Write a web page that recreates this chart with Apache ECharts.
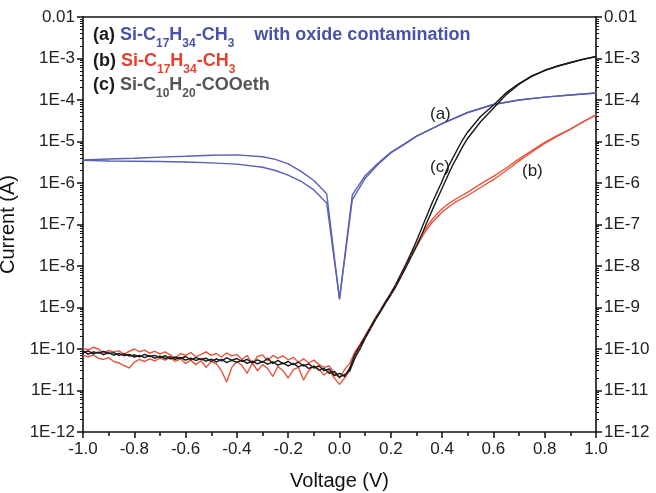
<!DOCTYPE html>
<html><head><meta charset="utf-8">
<script src="https://cdn.jsdelivr.net/npm/echarts@6/dist/echarts.min.js"></script>
<style>html,body{margin:0;padding:0;background:#fff}#c{width:656px;height:493px}</style>
</head><body><div id="c"></div>
<script>
// ---------- data ----------
const noiseV = [-1.00,-0.98,-0.96,-0.94,-0.92,-0.90,-0.88,-0.86,-0.84,-0.82,-0.80,-0.78,-0.76,-0.74,-0.72,-0.70,-0.68,-0.66,-0.64,-0.62,-0.60,-0.58,-0.56,-0.54,-0.52,-0.50,-0.48,-0.46,-0.44,-0.42,-0.40,-0.38,-0.36,-0.34,-0.32,-0.30,-0.28,-0.26,-0.24,-0.22,-0.20,-0.18,-0.16,-0.14,-0.12,-0.10,-0.08,-0.06,-0.04,-0.02,0.00,0.02];
const blackNoise1 = [9.0e-11,7.5e-11,8.5e-11,8.0e-11,8.8e-11,7.8e-11,8.2e-11,7.0e-11,7.6e-11,6.8e-11,7.2e-11,6.5e-11,7.4e-11,6.6e-11,7.0e-11,6.2e-11,6.9e-11,5.8e-11,6.4e-11,5.9e-11,6.6e-11,5.5e-11,6.2e-11,5.6e-11,6.0e-11,5.0e-11,5.8e-11,5.2e-11,6.1e-11,5.4e-11,5.9e-11,5.0e-11,5.6e-11,4.6e-11,5.5e-11,4.8e-11,6.0e-11,4.5e-11,5.3e-11,4.4e-11,5.0e-11,4.2e-11,4.8e-11,3.9e-11,4.4e-11,3.5e-11,3.9e-11,3.0e-11,3.3e-11,2.3e-11,2.6e-11,2.2e-11];
const blackNoise2 = [8.0e-11,9.0e-11,7.6e-11,8.4e-11,7.3e-11,8.1e-11,7.1e-11,7.8e-11,6.9e-11,7.4e-11,6.4e-11,7.0e-11,6.2e-11,6.9e-11,6.0e-11,6.7e-11,5.9e-11,6.5e-11,5.6e-11,6.3e-11,5.4e-11,6.0e-11,5.3e-11,5.8e-11,5.1e-11,5.7e-11,4.9e-11,5.6e-11,4.7e-11,5.3e-11,4.8e-11,5.4e-11,4.5e-11,5.1e-11,4.4e-11,5.0e-11,4.3e-11,4.9e-11,4.1e-11,4.6e-11,3.9e-11,4.5e-11,3.7e-11,4.2e-11,3.4e-11,3.8e-11,3.1e-11,3.4e-11,2.6e-11,2.9e-11,2.1e-11,2.4e-11];
const redNoise1 = [1.05e-10,9.5e-11,1.1e-10,1.0e-10,8.0e-11,9.2e-11,8.5e-11,9.0e-11,7.5e-11,8.8e-11,1.0e-10,8.6e-11,9.4e-11,8.0e-11,8.8e-11,7.6e-11,8.5e-11,7.2e-11,6.0e-11,7.8e-11,7.0e-11,8.2e-11,6.5e-11,7.4e-11,8.5e-11,7.0e-11,7.8e-11,6.4e-11,8.0e-11,6.8e-11,7.4e-11,5.6e-11,7.0e-11,4.4e-11,6.6e-11,7.2e-11,5.2e-11,7.0e-11,6.0e-11,6.8e-11,5.5e-11,6.3e-11,4.8e-11,5.8e-11,4.6e-11,5.4e-11,4.2e-11,3.6e-11,3.9e-11,2.6e-11,2.0e-11,3.2e-11];
const redNoise2 = [7.0e-11,6.5e-11,7.2e-11,6.0e-11,5.6e-11,6.2e-11,5.0e-11,4.6e-11,4.0e-11,3.5e-11,4.8e-11,5.6e-11,5.0e-11,5.8e-11,5.2e-11,6.0e-11,5.4e-11,6.2e-11,5.0e-11,5.8e-11,4.5e-11,5.4e-11,4.2e-11,5.2e-11,3.6e-11,5.0e-11,4.4e-11,3.0e-11,1.6e-11,3.6e-11,5.0e-11,4.0e-11,2.6e-11,4.6e-11,3.0e-11,4.2e-11,3.4e-11,2.2e-11,3.8e-11,3.0e-11,2.0e-11,3.2e-11,3.6e-11,1.8e-11,3.0e-11,4.0e-11,3.2e-11,2.4e-11,3.0e-11,2.0e-11,1.4e-11,2.0e-11];

const blackRiseV = [0.04,0.06,0.08,0.10,0.12,0.14,0.16,0.18,0.20,0.22,0.24,0.26,0.28,0.30,0.32,0.34,0.36,0.38,0.40,0.42,0.44,0.46,0.48,0.50,0.55,0.60,0.65,0.70,0.75,0.80,0.85,0.90,0.95,1.00];
const blackRise1 = [3.5e-11,7.5e-11,1.2e-10,2.0e-10,3.3e-10,5.5e-10,8.5e-10,1.4e-9,2.2e-9,3.6e-9,6.5e-9,1.15e-8,2.1e-8,4.0e-8,8.0e-8,1.6e-7,3.2e-7,6.0e-7,1.1e-6,2.2e-6,3.8e-6,6.5e-6,1.1e-5,1.7e-5,4.0e-5,7.5e-5,1.5e-4,2.5e-4,3.8e-4,5.2e-4,6.6e-4,8.0e-4,9.6e-4,1.12e-3];
const blackRise2 = [3.0e-11,6.0e-11,1.0e-10,1.8e-10,3.0e-10,5.0e-10,8.0e-10,1.3e-9,2.0e-9,3.2e-9,5.5e-9,9.5e-9,1.7e-8,3.0e-8,5.6e-8,1.1e-7,2.1e-7,4.0e-7,7.5e-7,1.4e-6,2.6e-6,4.4e-6,7.5e-6,1.2e-5,3.0e-5,6.3e-5,1.35e-4,2.4e-4,3.7e-4,5.1e-4,6.5e-4,7.9e-4,9.5e-4,1.11e-3];

const redRiseV = [0.04,0.06,0.08,0.10,0.12,0.14,0.16,0.18,0.20,0.22,0.24,0.26,0.28,0.30,0.32,0.34,0.36,0.38,0.40,0.42,0.45,0.50,0.55,0.60,0.65,0.70,0.75,0.80,0.85,0.90,0.95,1.00];
const redRise1 = [4.5e-11,8.5e-11,1.3e-10,2.1e-10,3.4e-10,5.6e-10,8.8e-10,1.4e-9,2.2e-9,3.6e-9,6.2e-9,1.05e-8,1.8e-8,3.2e-8,5.5e-8,8.8e-8,1.3e-7,1.8e-7,2.4e-7,3.0e-7,4.0e-7,6.0e-7,9.5e-7,1.45e-6,2.3e-6,3.8e-6,6.0e-6,9.5e-6,1.4e-5,2.0e-5,3.0e-5,4.4e-5];
const redRise2 = [3.0e-11,6.5e-11,1.1e-10,1.9e-10,3.1e-10,5.2e-10,8.2e-10,1.3e-9,2.1e-9,3.4e-9,5.8e-9,9.8e-9,1.7e-8,2.9e-8,4.8e-8,7.5e-8,1.1e-7,1.5e-7,2.0e-7,2.5e-7,3.4e-7,5.0e-7,7.8e-7,1.2e-6,2.0e-6,3.4e-6,5.6e-6,9.0e-6,1.35e-5,1.95e-5,2.95e-5,4.4e-5];

const blueV = [-1.0,-0.9,-0.8,-0.7,-0.6,-0.5,-0.4,-0.3,-0.25,-0.2,-0.15,-0.1,-0.05,0.0,0.05,0.1,0.15,0.2,0.25,0.3,0.4,0.5,0.6,0.7,0.8,0.9,1.0];
const blue1 = [3.6e-6,3.8e-6,3.95e-6,4.2e-6,4.4e-6,4.65e-6,4.75e-6,4.3e-6,3.7e-6,2.9e-6,1.9e-6,1.15e-6,5.5e-7,1.6e-9,5.2e-7,1.5e-6,3.0e-6,5.5e-6,8.5e-6,1.35e-5,2.7e-5,5.0e-5,7.8e-5,1.0e-4,1.17e-4,1.32e-4,1.48e-4];
const blue2 = [3.5e-6,3.4e-6,3.35e-6,3.3e-6,3.2e-6,3.05e-6,2.85e-6,2.4e-6,2.0e-6,1.55e-6,1.1e-6,6.8e-7,3.3e-7,1.6e-9,4.0e-7,1.3e-6,2.8e-6,5.3e-6,8.3e-6,1.33e-5,2.7e-5,5.0e-5,7.8e-5,1.0e-4,1.17e-4,1.32e-4,1.48e-4];

const yMin = 1e-12, yMax = 1e-2;

// ---------- styles ----------
const FONT = "'Liberation Sans', Arial, Helvetica, sans-serif";
const zip = (xs, ys) => xs.map((x, i) => [x, ys[i]]);
const BLUE = '#5a5fb6', RED = '#e8553d', BLACK = '#1a1a1a';
const BLUE_T = '#4a52a8', RED_T = '#e8402e', GRAY_T = '#555555';

function rich(color) {
  return {
    p: { color: BLACK, fontSize: 18, fontFamily: FONT, lineHeight: 30, verticalAlign: 'middle' },
    m: { color, fontSize: 18, fontFamily: FONT, lineHeight: 30, verticalAlign: 'middle' },
    w: { color, fontSize: 18, fontFamily: FONT, fontWeight: 'bold', lineHeight: 30, verticalAlign: 'middle' },
    s: { color, fontSize: 12, fontFamily: FONT, lineHeight: 30, verticalAlign: 'bottom' }
  };
}
function legendRow(text, color, cy) {
  return { text, left: 93, top: cy - 15, padding: 0, itemGap: 0,
    textStyle: { rich: rich(color), fontSize: 18, lineHeight: 30 } };
}
const ctx = document.createElement('canvas').getContext('2d');
function tw(t, size) { ctx.font = size + 'px ' + FONT; return ctx.measureText(t).width; }
function annot(text, cx, cy) {
  return { text, left: Math.round(cx - tw(text, 17) / 2), top: cy - 10, padding: 0,
    textStyle: { color: '#222', fontSize: 17, fontWeight: 'normal', fontFamily: FONT, lineHeight: 20 } };
}

function yFmt(v) { const e = Math.round(Math.log10(v)); return e === -2 ? '0.01' : '1E' + e; }
function yAxisCfg(pos) {
  return {
    type: 'log', logBase: 10, min: yMin, max: yMax, position: pos, splitNumber: 10,
    axisLine: { show: true, onZero: false, lineStyle: { color: '#111', width: 1.6 } },
    axisTick: { show: true, inside: false, length: 6, lineStyle: { color: '#111', width: 1.5 } },
    minorTick: { show: true, splitNumber: 9, length: 3, lineStyle: { color: '#111', width: 1 } },
    splitLine: { show: false },
    axisLabel: { show: true, interval: 0, showMinLabel: true, showMaxLabel: true, margin: 8,
      formatter: yFmt, color: '#222', fontSize: 17 },
    name: pos === 'left' ? 'Current (A)' : '', nameLocation: 'middle', nameGap: 50,
    nameTextStyle: { fontSize: 20, color: '#111' }
  };
}
function line(data, color) {
  return { type: 'line', data, showSymbol: true, symbol: 'circle', symbolSize: 1,
    lineStyle: { color, width: 1.4 }, itemStyle: { color } };
}

const chart = echarts.init(document.getElementById('c'));
chart.setOption({
  animation: false,
  textStyle: { fontFamily: FONT },
  title: [
    legendRow('{p|(a) }{m|Si-C}{s|17}{m|H}{s|34}{m|-CH}{s|3}{w|    with oxide contamination}', BLUE_T, 35),
    legendRow('{p|(b) }{m|Si-C}{s|17}{m|H}{s|34}{m|-CH}{s|3}', RED_T, 61),
    legendRow('{p|(c) }{m|Si-C}{s|10}{m|H}{s|20}{m|-COOeth}', GRAY_T, 85),
    annot('(a)', 440, 114), annot('(c)', 440, 167), annot('(b)', 532, 171)
  ],
  grid: { left: 83, right: 60, top: 17, bottom: 61, outerBoundsMode: 'none', containLabel: false },
  xAxis: [{
    type: 'value', min: -1, max: 1, interval: 0.2, position: 'bottom',
    axisLine: { show: true, onZero: false, lineStyle: { color: '#111', width: 1.6 } },
    axisTick: { show: true, inside: false, length: 6, lineStyle: { color: '#111', width: 1.5 } },
    minorTick: { show: true, splitNumber: 2, length: 4, lineStyle: { color: '#111', width: 1.5 } },
    splitLine: { show: false },
    axisLabel: { margin: 9, color: '#222', fontSize: 17,
      formatter: v => (Math.abs(v) < 1e-9 ? 0 : v).toFixed(1) },
    name: 'Voltage (V)', nameLocation: 'middle', nameGap: 39,
    nameTextStyle: { fontSize: 20, color: '#111' }
  }, {
    type: 'value', min: -1, max: 1, position: 'top',
    axisLine: { show: true, onZero: false, lineStyle: { color: '#111', width: 1.6 } },
    axisTick: { show: false }, axisLabel: { show: false }, splitLine: { show: false }
  }],
  yAxis: [yAxisCfg('left'), yAxisCfg('right')],
  series: [
    line(zip(blueV, blue1), BLUE),
    line(zip(blueV, blue2), BLUE),
    line(zip(noiseV.concat(redRiseV), redNoise1.concat(redRise1)), RED),
    line(zip(noiseV.concat(redRiseV), redNoise2.concat(redRise2)), RED),
    line(zip(noiseV.concat(blackRiseV), blackNoise1.concat(blackRise1)), BLACK),
    line(zip(noiseV.concat(blackRiseV), blackNoise2.concat(blackRise2)), BLACK)
  ]
});
</script></body></html>
